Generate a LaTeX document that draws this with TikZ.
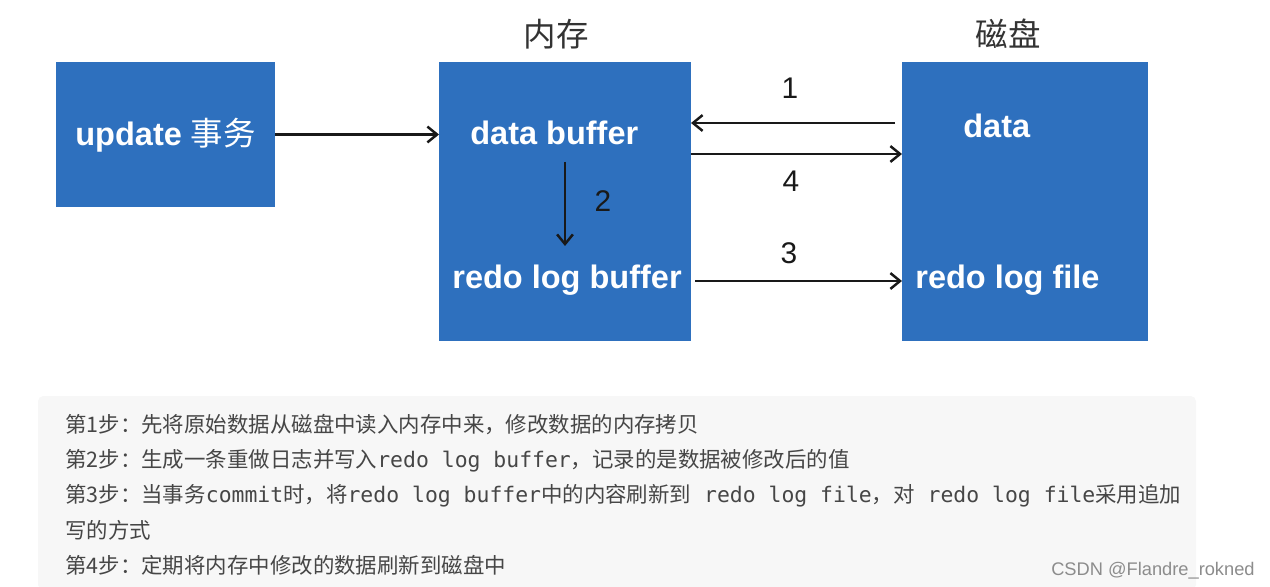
\documentclass[tikz,border=0pt]{standalone}
\usepackage{fontspec}
\setmainfont{Liberation Sans}
\newfontfamily\cjk{Noto Sans CJK SC}
\newfontfamily\codefont{DejaVu Sans Mono}
\usetikzlibrary{arrows.meta}
\definecolor{boxblue}{RGB}{46,112,190}
\definecolor{stepgray}{RGB}{70,70,70}
\definecolor{notebg}{RGB}{247,247,247}

\begin{document}
\begin{tikzpicture}[x=0.02cm,y=-0.02cm,
    bluebox/.style={draw=none,fill=boxblue,inner sep=0,outer sep=0},
    boxtext/.style={text=white,font=\fontsize{18.5pt}{18.5pt}\selectfont\bfseries,inner sep=0},
    headtext/.style={font=\cjk\fontsize{18.5pt}{18.5pt}\selectfont,text=black!80,inner sep=0},
    numtext/.style={font=\fontsize{17pt}{17pt}\selectfont,text=black!90,inner sep=0},
    arr/.style={line width=1.4pt,black!90,-{Straight Barb[length=5.5pt,width=9pt,line width=1.4pt]}},
    steptext/.style={anchor=base west,inner sep=0,text=stepgray,font=\cjk\fontsize{12.2pt}{12.2pt}\selectfont}]
            \useasboundingbox (0,0) rectangle (1270,587);
            % boxes
            \node [bluebox,minimum width=219*0.02cm,minimum height=145*0.02cm,anchor=north west] (update) at (56,62) {};
            \node [bluebox,minimum width=252*0.02cm,minimum height=279*0.02cm,anchor=north west] (mem) at (439,62) {};
            \node [bluebox,minimum width=246*0.02cm,minimum height=279*0.02cm,anchor=north west] (disk) at (902,62) {};
            % headers
            \node [headtext] (memhead) at (556,34) {内存};
            \node [headtext] (diskhead) at (1008,34) {磁盘};
            % box texts
            \node [boxtext,anchor=west] (updtext) at (75,135) {update {\cjk\mdseries 事务}};
            \node [boxtext,anchor=west] (dbuf) at (470,133) {data buffer};
            \node [boxtext,anchor=west] (rbuf) at (452,280) {redo log buffer};
            \node [boxtext,anchor=west] (dtext) at (963,126) {data};
            \node [boxtext,anchor=west] (rfile) at (915,280) {redo log file};
            % arrows
            \draw [arr] (update.east) -- (update.east -| mem.west);
            \coordinate (a1) at (895,123);
            \draw [arr] (a1) -- (a1 -| mem.east);
            \coordinate (a4) at (691,154);
            \draw [arr] (a4) -- (a4 -| disk.west);
            \coordinate (a2top) at (565,162);
            \coordinate (a2bot) at (565,246);
            \draw [arr] (a2top) -- (a2bot);
            \coordinate (a3) at (695,281);
            \draw [arr] (a3) -- (a3 -| disk.west);
            % step numbers
            \node [numtext] (n1) at (790,88) {1};
            \node [numtext] (n2) at (603,201) {2};
            \node [numtext] (n3) at (789,253) {3};
            \node [numtext] (n4) at (791,181) {4};
            % notes
            \fill [notebg,rounded corners=3] (38,396) rectangle (1196,590);
            \node [steptext] (s1) at (65,432) {第1步：先将原始数据从磁盘中读入内存中来，修改数据的内存拷贝};
            \node [steptext] (s2) at (65,467) {第2步：生成一条重做日志并写入{\codefont redo log buffer}，记录的是数据被修改后的值};
            \node [steptext] (s3) at (65,502) {第3步：当事务{\codefont commit}时，将{\codefont redo log buffer}中的内容刷新到{\codefont\ redo log file}，对{\codefont\ redo log file}采用追加};
            \node [steptext] (s3b) at (65,538) {写的方式};
            \node [steptext] (s4) at (65,573) {第4步：定期将内存中修改的数据刷新到磁盘中};
            % watermark
            \node [anchor=base east,inner sep=0,text=black!45,font=\fontsize{10.4pt}{10.4pt}\selectfont] (mark) at (1255,575) {CSDN @Flandre\_rokned};
         \end{tikzpicture}
\end{document}
